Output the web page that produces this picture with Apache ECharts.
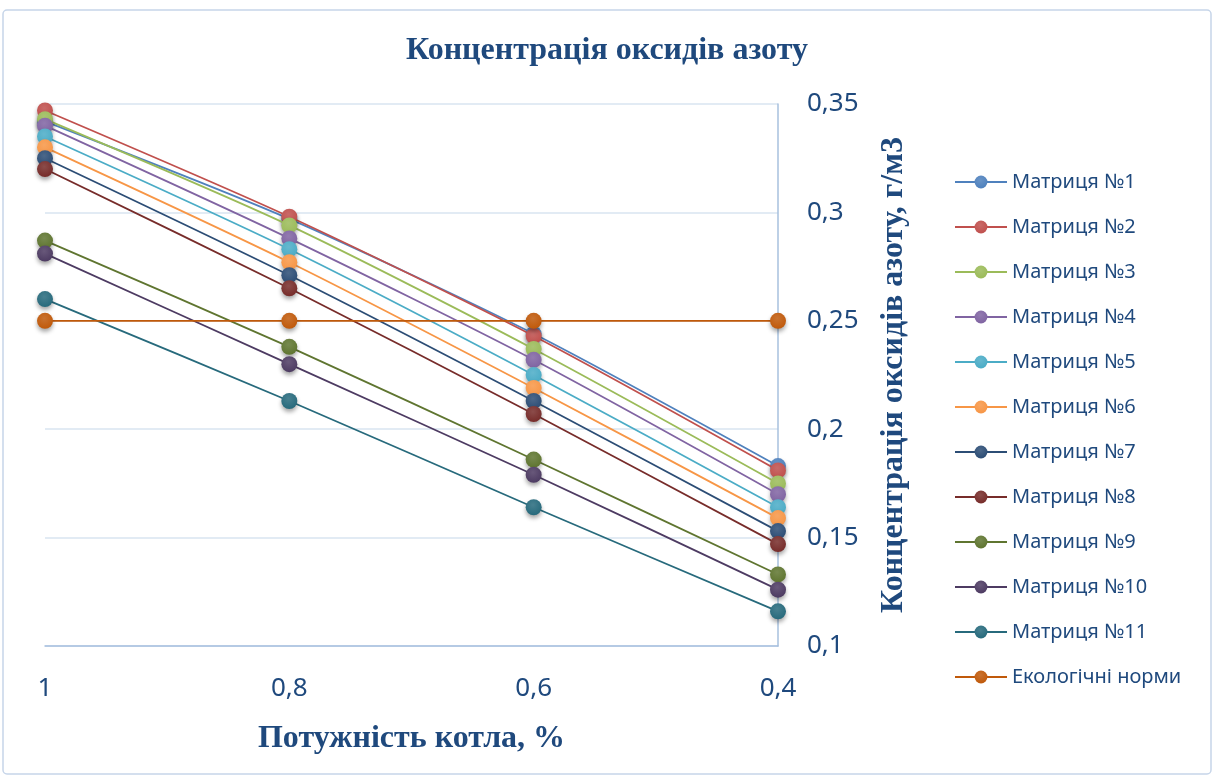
<!DOCTYPE html>
<html>
<head>
<meta charset="utf-8">
<script src="https://cdn.jsdelivr.net/npm/echarts@6/dist/echarts.min.js"></script>
<style>
html, body { margin: 0; padding: 0; background: #fff; }
#content { width: 1214px; height: 778px; }
</style>
</head>
<body>
<div id="content"></div>
<script>
var categories = ['1', '0,8', '0,6', '0,4'];
var seriesNames = ['Матриця №1', 'Матриця №2', 'Матриця №3', 'Матриця №4', 'Матриця №5', 'Матриця №6',
    'Матриця №7', 'Матриця №8', 'Матриця №9', 'Матриця №10', 'Матриця №11', 'Екологічні норми'];
var m1 = [0.342, 0.297, 0.244, 0.183];
var m2 = [0.347, 0.298, 0.243, 0.181];
var m3 = [0.343, 0.294, 0.237, 0.175];
var m4 = [0.340, 0.288, 0.232, 0.170];
var m5 = [0.335, 0.283, 0.225, 0.164];
var m6 = [0.330, 0.277, 0.219, 0.159];
var m7 = [0.325, 0.271, 0.213, 0.153];
var m8 = [0.320, 0.265, 0.207, 0.147];
var m9 = [0.287, 0.238, 0.186, 0.133];
var m10 = [0.281, 0.230, 0.179, 0.126];
var m11 = [0.260, 0.213, 0.164, 0.116];
var norms = [0.25, 0.25, 0.25, 0.25];
var allData = [m1, m2, m3, m4, m5, m6, m7, m8, m9, m10, m11, norms];
var colors = ['#4F81BD', '#C0504D', '#9BBB59', '#8064A2', '#4BACC6', '#F79646',
    '#2C4D75', '#772C2A', '#5F7530', '#4D3B62', '#276A7C', '#C0590A'];

var textBlue = '#1F497D';

function lighten(hex, k) {
    var r = parseInt(hex.substr(1, 2), 16), g = parseInt(hex.substr(3, 2), 16), b = parseInt(hex.substr(5, 2), 16);
    r = Math.round(r + (255 - r) * k); g = Math.round(g + (255 - g) * k); b = Math.round(b + (255 - b) * k);
    return 'rgb(' + r + ',' + g + ',' + b + ')';
}

// later series drawn on top, like in the original
var series = allData.map(function (d, i) {
    return {
        name: seriesNames[i],
        type: 'line',
        data: d,
        smooth: i < 11 ? 0.25 : false,
        symbol: 'circle',
        symbolSize: 16,
        lineStyle: { color: colors[i], width: 1.8 },
        itemStyle: {
            color: {
                type: 'radial', x: 0.45, y: 0.35, r: 0.65,
                colorStops: [{ offset: 0, color: lighten(colors[i], 0.15) }, { offset: 1, color: colors[i] }]
            },
            shadowColor: 'rgba(0,0,0,0.35)',
            shadowBlur: 4,
            shadowOffsetY: 3
        },
        z: 2 + i
    };
});

var myChart = echarts.init(document.getElementById('content'));
myChart.setOption({
    animation: false,
    color: colors,
    graphic: [{
        type: 'rect',
        shape: { x: 3, y: 10, width: 1208, height: 764, r: 4 },
        style: { fill: 'none', stroke: '#C6D5E9', lineWidth: 1.5 },
        silent: true
    }],
    title: {
        text: 'Концентрація оксидів азоту',
        left: 'center',
        top: 30,
        textStyle: { fontFamily: 'Liberation Serif', fontWeight: 'bold', fontSize: 32, color: textBlue }
    },
    legend: {
        orient: 'vertical',
        left: 949,
        top: 167,
        itemGap: 25,
        itemWidth: 52,
        itemHeight: 16,
        data: seriesNames,
        textStyle: { fontFamily: 'Noto Sans', fontSize: 20, color: textBlue }
    },
    grid: { left: 45, right: 436, top: 104, bottom: 132 },
    xAxis: {
        type: 'category',
        data: categories,
        boundaryGap: false,
        name: 'Потужність котла, %',
        nameLocation: 'middle',
        nameGap: 77,
        nameTextStyle: { fontFamily: 'Liberation Serif', fontWeight: 'bold', fontSize: 32, color: textBlue },
        axisLine: { lineStyle: { color: '#A7C0DE', width: 1.5 } },
        axisTick: { show: false },
        axisLabel: { margin: 30, fontFamily: 'Noto Sans', fontSize: 26, color: textBlue },
        splitLine: { show: false }
    },
    yAxis: {
        type: 'value',
        position: 'right',
        min: 0.1,
        max: 0.35,
        interval: 0.05,
        name: 'Концентрація оксидів азоту, г/м3',
        nameLocation: 'middle',
        nameGap: 100,
        nameRotate: 90,
        nameTextStyle: { fontFamily: 'Liberation Serif', fontWeight: 'bold', fontSize: 32, color: textBlue },
        axisLine: { show: true, lineStyle: { color: '#A7C0DE', width: 1.5 } },
        axisTick: { show: false },
        axisLabel: {
            margin: 29,
            fontFamily: 'Noto Sans', fontSize: 26, color: textBlue,
            formatter: function (v) { return String(+v.toFixed(2)).replace('.', ','); }
        },
        splitLine: { lineStyle: { color: '#D9E4F1', width: 1.5 } }
    },
    series: series
});
</script>
</body>
</html>
